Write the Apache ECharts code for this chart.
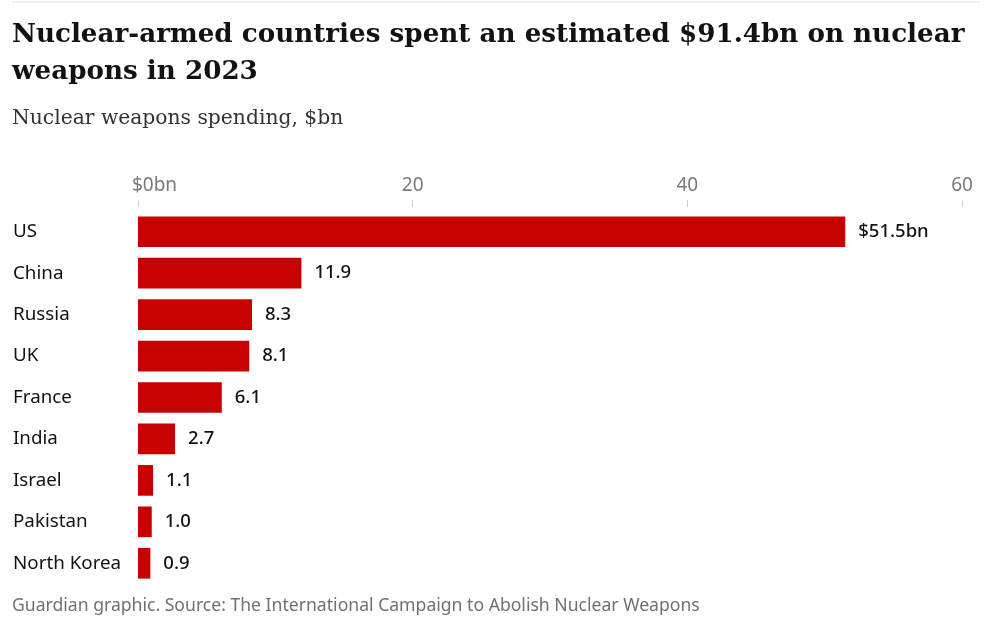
<!DOCTYPE html>
<html>
<head>
<meta charset="utf-8">
<script src="https://cdn.jsdelivr.net/npm/echarts@6/dist/echarts.min.js"></script>
<style>
  html, body { margin: 0; padding: 0; background: #fff; }
  #chart { width: 996px; height: 621px; }
</style>
</head>
<body>
<div id="chart"></div>
<script>
// spending in $bn, 2023
const countries = ['US', 'China', 'Russia', 'UK', 'France', 'India', 'Israel', 'Pakistan', 'North Korea'];
const spending = [51.5, 11.9, 8.3, 8.1, 6.1, 2.7, 1.1, 1.0, 0.9];
const xTicks = [0, 20, 40, 60];

const sans = '"Noto Sans", "Open Sans", sans-serif';
const serif = '"DejaVu Serif", serif';

const chart = echarts.init(document.getElementById('chart'));
const option = {
    animation: false,
    title: [
        {
            text: 'Nuclear-armed countries spent an estimated $91.4bn on nuclear\nweapons in 2023',
            left: 7,
            top: 12,
            textStyle: {fontFamily: serif, fontWeight: 'bold', fontSize: 26.2, lineHeight: 37, color: '#121212'}
        },
        {
            text: 'Nuclear weapons spending, $bn',
            left: 7,
            top: 104,
            textStyle: {fontFamily: serif, fontWeight: 'normal', fontSize: 20.3, color: '#333'}
        },
        {
            text: 'Guardian graphic. Source: The International Campaign to Abolish Nuclear Weapons',
            left: 7,
            top: 592,
            textStyle: {fontFamily: sans, fontWeight: 'normal', fontSize: 17.6, color: '#707070'}
        }
    ],
    graphic: [
        {type: 'line', shape: {x1: 12, y1: 2, x2: 980, y2: 2}, style: {stroke: '#dcdcdc', lineWidth: 1}}
    ],
    grid: {left: 138, right: 34, top: 211, bottom: 37},
    xAxis: {
        type: 'value',
        position: 'top',
        min: 0,
        max: 60,
        interval: 20,
        offset: 4,
        axisLine: {show: false},
        axisTick: {show: true, length: 7, lineStyle: {color: '#cfcfcf'}},
        splitLine: {show: false},
        axisLabel: {
            margin: 12,
            fontFamily: sans,
            fontSize: 19,
            color: '#7a7a7a',
            formatter: v => xTicks.includes(v) ? (v === 0 ? '{first|$0bn}' : String(v)) : '',
            rich: {
                // first label sits mostly to the right of its tick
                first: {fontFamily: sans, fontSize: 19, color: '#7a7a7a', padding: [0, 0, 0, 33]}
            }
        }
    },
    yAxis: {
        type: 'category',
        data: countries,
        inverse: true,
        axisLine: {show: false},
        axisTick: {show: false},
        axisLabel: {
            align: 'left',
            margin: 125,
            fontFamily: sans,
            fontSize: 18.8,
            color: '#121212'
        }
    },
    series: [
        {
            type: 'bar',
            data: spending,
            barCategoryGap: '26%',
            itemStyle: {color: '#c70000'},
            label: {
                show: true,
                position: 'right',
                distance: 13,
                fontFamily: sans,
                fontSize: 18.5,
                fontWeight: 500,
                color: '#121212',
                formatter: p => p.dataIndex === 0 ? '$' + p.value.toFixed(1) + 'bn' : p.value.toFixed(1)
            }
        }
    ]
};
chart.setOption(option);
</script>
</body>
</html>
